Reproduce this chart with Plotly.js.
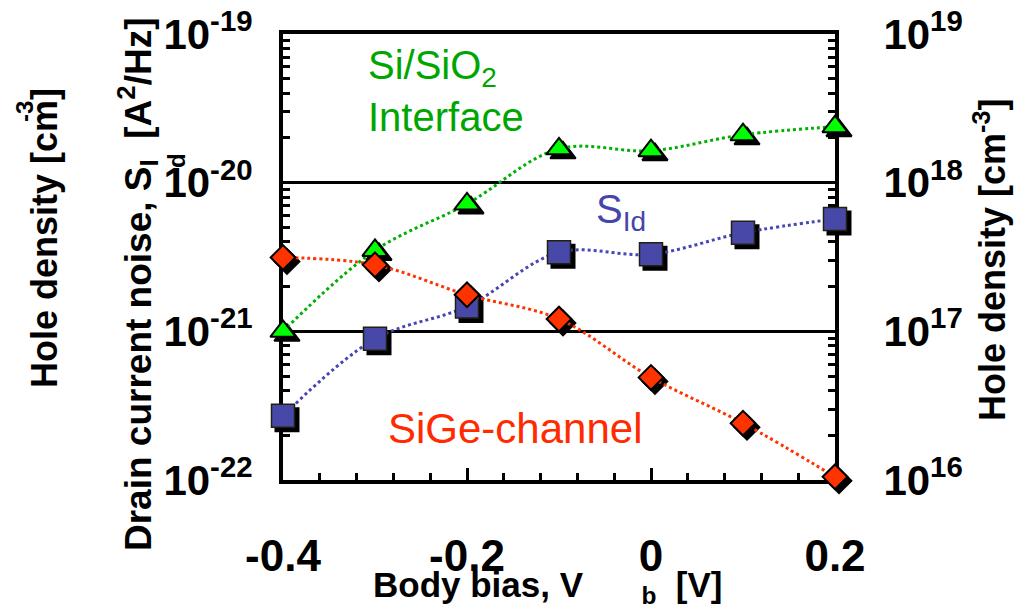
<!DOCTYPE html>
<html>
<head>
<meta charset="utf-8">
<script src="https://cdn.plot.ly/plotly-3.0.1.min.js"></script>
<style>
  html, body { margin: 0; padding: 0; background: #ffffff; }
  #chart { width: 1028px; height: 610px; }
</style>
</head>
<body>
<div id="chart"></div>
<script>
// Body bias sweep [V]
const bodyBias = [-0.4, -0.3, -0.2, -0.1, 0, 0.1, 0.2];
// Drain current noise S_Id [A^2/Hz] (left axis)
const noiseSId = [2.7e-22, 8.9e-22, 1.47e-21, 3.4e-21, 3.3e-21, 4.6e-21, 5.7e-21];
// Hole density at the Si/SiO2 interface [cm^-3] (right axis)
const holeInterface = [1.0e17, 3.5e17, 7.2e17, 1.69e18, 1.64e18, 2.1e18, 2.38e18];
// Hole density in the SiGe channel [cm^-3] (right axis)
const holeChannel = [3.14e17, 2.8e17, 1.76e17, 1.21e17, 4.9e16, 2.41e16, 1.05e16];

// Axis ticks
const xTickVals = [-0.4, -0.2, 0, 0.2];
const xTickText = ['-0.4', '-0.2', '0', '0.2'];
const noiseDecades = [-22, -21, -20, -19];
const holeDecades = [16, 17, 18, 19];

const decadeVals = d => d.map(e => Math.pow(10, e));
const decadeText = d => d.map(e => '10<sup>' + (e < 0 ? '-' + (-e) : e) + '</sup>');
const minorVals = d => {
  const out = [];
  for (let i = 0; i < d.length - 1; i++)
    for (let m = 2; m <= 9; m++) out.push(m * Math.pow(10, d[i]));
  return out;
};

// Page geometry (px)
const W = 1028, H = 610;
const L = 283, T = 34, PW = 556, PH = 450;   // plot area incl. room for marker shadows
const SH = 4;                                 // marker shadow offset
const px2x = p => (p - L) / PW;
const px2y = p => (T + PH - p) / PH;

const FONT = 'Liberation Sans, Arial, Helvetica, sans-serif';
const GREEN_TXT = '#00A600', GREEN_LINE = '#00B000', GREEN_FILL = '#00FF00';
const BLUE_TXT = '#4646AA', BLUE_LINE = '#4646B4', BLUE_FILL = '#4848A8';
const RED_TXT = '#FF2A00', RED_LINE = '#FF3300', RED_FILL = '#FF3300';

const mk = {
  tri: { symbol: 'triangle-up', size: 22 },
  sq: { symbol: 'square', size: 23 },
  dia: { symbol: 'diamond', size: 19 }
};

function shadow(y, yaxis, m) {
  return {
    x: bodyBias, y: y, xaxis: 'x', yaxis: yaxis, mode: 'markers', cliponaxis: false,
    hoverinfo: 'skip', showlegend: false,
    marker: { symbol: m.symbol, size: m.size, color: '#000000', line: { color: '#000000', width: 2 } }
  };
}
function curve(y, yaxis, color) {
  return {
    x: bodyBias, y: y, xaxis: 'x2', yaxis: yaxis, mode: 'lines', cliponaxis: false,
    hoverinfo: 'skip', showlegend: false,
    line: { color: color, width: 3, dash: 'dot', shape: 'spline', smoothing: 1 }
  };
}
function points(y, yaxis, m, fill, edge, ew) {
  return {
    x: bodyBias, y: y, xaxis: 'x2', yaxis: yaxis, mode: 'markers', cliponaxis: false,
    hoverinfo: 'skip', showlegend: false,
    marker: { symbol: m.symbol, size: m.size, color: fill, line: { color: edge, width: ew } }
  };
}
// empty carriers so the tick-only axes get drawn
function carrier(xaxis, yaxis) {
  return { x: [], y: [], xaxis: xaxis, yaxis: yaxis, mode: 'markers', hoverinfo: 'skip', showlegend: false };
}

const data = [
  // drop shadows (shifted subplot underneath)
  shadow(noiseSId, 'y', mk.sq),
  shadow(holeInterface, 'y2', mk.tri),
  shadow(holeChannel, 'y2', mk.dia),
  // dotted trend curves
  curve(noiseSId, 'y3', BLUE_LINE),
  curve(holeInterface, 'y4', GREEN_LINE),
  curve(holeChannel, 'y4', RED_LINE),
  // markers
  points(noiseSId, 'y3', mk.sq, BLUE_FILL, '#202010', 1.5),
  points(holeInterface, 'y4', mk.tri, GREEN_FILL, '#000000', 2),
  points(holeChannel, 'y4', mk.dia, RED_FILL, '#000000', 2),
  carrier('x3', 'y3'),
  carrier('x2', 'y5'),
  carrier('x2', 'y6')
];

const mainX = [0, (PW - SH) / PW], mainY = [SH / PH, 1];
const shX = [SH / PW, 1], shY = [0, (PH - SH) / PH];

const tickFontY = { family: FONT, size: 42, weight: 'bold', color: '#000000' };
const tickFontX = { family: FONT, size: 44, weight: 'bold', color: '#000000' };

const hidden = { visible: false, showgrid: false, zeroline: false, fixedrange: true };
// tick-only overlay axes for the minor ticks
const minorAxis = {
  showline: false, showgrid: false, zeroline: false, showticklabels: false,
  ticks: 'inside', ticklen: 7, tickwidth: 3, tickcolor: '#000000', layer: 'below traces'
};

const layout = {
  width: W, height: H,
  margin: { l: L, r: W - L - PW, t: T, b: H - T - PH, pad: 0 },
  paper_bgcolor: '#ffffff', plot_bgcolor: 'rgba(0,0,0,0)',
  showlegend: false,
  font: { family: FONT, color: '#000000' },

  xaxis: Object.assign({ domain: shX, range: [-0.4, 0.2], anchor: 'y' }, hidden),
  yaxis: Object.assign({ domain: shY, type: 'log', range: [-22, -19], anchor: 'x' }, hidden),
  yaxis2: Object.assign({ type: 'log', range: [16, 19], overlaying: 'y', anchor: 'x' }, hidden),

  xaxis2: {
    domain: mainX, range: [-0.4, 0.2], anchor: 'y3', layer: 'below traces',
    showline: true, linecolor: '#000000', linewidth: 4, mirror: true,
    ticks: 'inside', ticklen: 12, tickwidth: 3, tickcolor: '#000000',
    tickmode: 'array', tickvals: xTickVals, ticktext: xTickText,
    tickfont: tickFontX, ticklabelstandoff: 34,
    showgrid: false, zeroline: false
  },
  xaxis3: Object.assign({
    overlaying: 'x2', anchor: 'y3', side: 'bottom', range: [-0.4, 0.2],
    tickmode: 'linear', tick0: -0.4, dtick: 0.04
  }, minorAxis),
  yaxis3: {
    domain: mainY, type: 'log', range: [-22, -19], anchor: 'x2', side: 'left', layer: 'below traces',
    showline: true, linecolor: '#000000', linewidth: 4,
    ticks: 'inside', ticklen: 11, tickwidth: 3, tickcolor: '#000000',
    tickmode: 'array', tickvals: decadeVals(noiseDecades), ticktext: decadeText(noiseDecades),
    tickfont: tickFontY, ticklabelstandoff: 18,
    showgrid: true, gridcolor: '#000000', gridwidth: 3, zeroline: false
  },
  yaxis4: {
    type: 'log', range: [16, 19], anchor: 'x2', overlaying: 'y3', side: 'right', layer: 'below traces',
    showline: true, linecolor: '#000000', linewidth: 4,
    ticks: 'inside', ticklen: 11, tickwidth: 3, tickcolor: '#000000',
    tickmode: 'array', tickvals: decadeVals(holeDecades), ticktext: decadeText(holeDecades),
    tickfont: tickFontY, ticklabelstandoff: 36,
    showgrid: false, zeroline: false
  },
  yaxis5: Object.assign({
    overlaying: 'y3', anchor: 'x2', side: 'left', type: 'log', range: [-22, -19],
    tickmode: 'array', tickvals: minorVals(noiseDecades)
  }, minorAxis),
  yaxis6: Object.assign({
    overlaying: 'y3', anchor: 'x2', side: 'right', type: 'log', range: [16, 19],
    tickmode: 'array', tickvals: minorVals(holeDecades)
  }, minorAxis),

  annotations: [
    // axis titles
    { xref: 'paper', yref: 'paper', x: px2x(137), y: px2y(284), xanchor: 'center', yanchor: 'middle',
      textangle: -90, showarrow: false,
      text: 'Drain current noise, S<sub>I</sub>\u00a0\u00a0[A<sup>2</sup>/Hz]',
      font: { family: FONT, size: 37, weight: 'bold', color: '#000000' } },
    { xref: 'paper', yref: 'paper', x: px2x(176), y: px2y(161), xanchor: 'center', yanchor: 'middle',
      textangle: -90, showarrow: false, text: 'd',
      font: { family: FONT, size: 24, weight: 'bold', color: '#000000' } },
    { xref: 'paper', yref: 'paper', x: px2x(44), y: px2y(238), xanchor: 'center', yanchor: 'middle',
      textangle: -90, showarrow: false, text: 'Hole density [cm]',
      font: { family: FONT, size: 36, weight: 'bold', color: '#000000' } },
    { xref: 'paper', yref: 'paper', x: px2x(24), y: px2y(112), xanchor: 'center', yanchor: 'middle',
      textangle: -90, showarrow: false, text: '-3',
      font: { family: FONT, size: 24, weight: 'bold', color: '#000000' } },
    { xref: 'paper', yref: 'paper', x: px2x(990), y: px2y(260), xanchor: 'center', yanchor: 'middle',
      textangle: -90, showarrow: false, text: 'Hole density [cm<sup>-3</sup>]',
      font: { family: FONT, size: 36, weight: 'bold', color: '#000000' } },
    { xref: 'paper', yref: 'paper', x: px2x(371), y: px2y(587), xanchor: 'left', yanchor: 'middle',
      showarrow: false, text: 'Body bias, V\u00a0\u00a0\u00a0\u00a0\u00a0\u00a0<sub>b</sub>\u00a0\u00a0[V]',
      font: { family: FONT, size: 35, weight: 'bold', color: '#000000' } },
    // series labels
    { xref: 'paper', yref: 'paper', x: px2x(366), y: px2y(68), xanchor: 'left', yanchor: 'middle',
      showarrow: false, text: 'Si/SiO<sub>2</sub>',
      font: { family: FONT, size: 40, color: GREEN_TXT } },
    { xref: 'paper', yref: 'paper', x: px2x(366), y: px2y(117), xanchor: 'left', yanchor: 'middle',
      showarrow: false, text: 'Interface',
      font: { family: FONT, size: 40, color: GREEN_TXT } },
    { xref: 'paper', yref: 'paper', x: px2x(594), y: px2y(212), xanchor: 'left', yanchor: 'middle',
      showarrow: false, text: 'S<sub>Id</sub>',
      font: { family: FONT, size: 40, color: BLUE_TXT } },
    { xref: 'paper', yref: 'paper', x: px2x(386), y: px2y(428), xanchor: 'left', yanchor: 'middle',
      showarrow: false, text: 'SiGe-channel',
      font: { family: FONT, size: 42, color: RED_TXT } }
  ]
};

Plotly.newPlot('chart', data, layout, { staticPlot: true, displayModeBar: false });
</script>
</body>
</html>
